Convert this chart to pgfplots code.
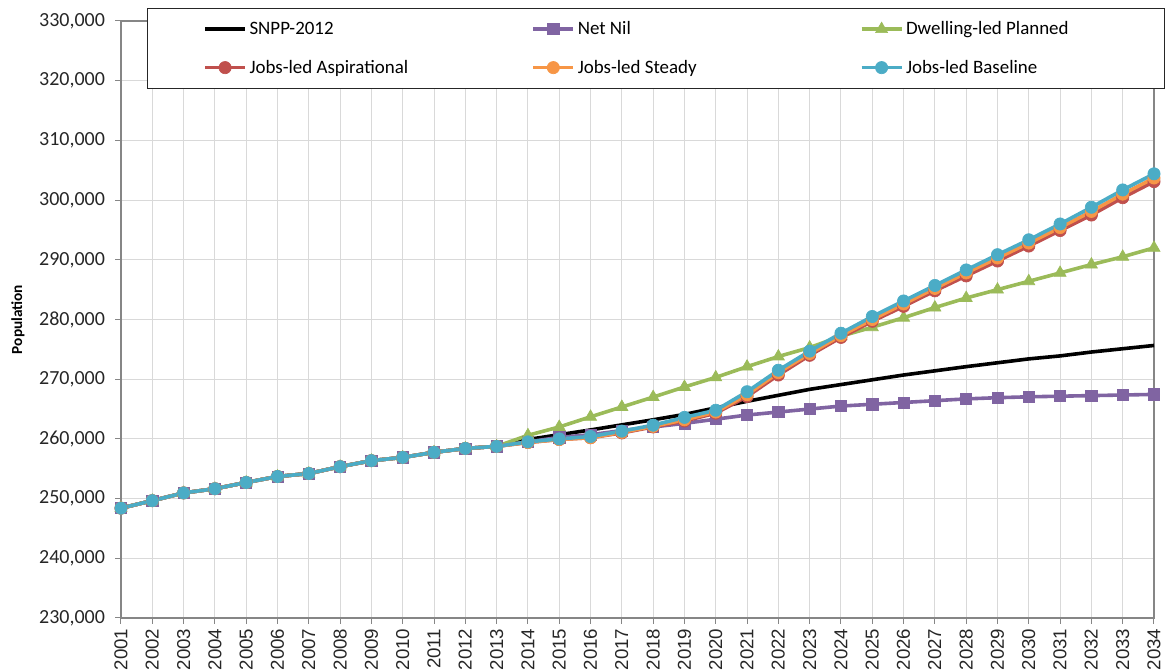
\documentclass[border=0pt]{standalone}
\usepackage{pgfplots}
\pgfplotsset{compat=1.18}
\usepackage{pgfplotstable}
\usepackage{fontspec}
\setmainfont{Carlito}
\newfontfamily\arialfont{Liberation Sans}
\definecolor{cpurple}{HTML}{8064A2}
\definecolor{cgreen}{HTML}{9BBB59}
\definecolor{cred}{HTML}{C0504D}
\definecolor{corange}{HTML}{F79646}
\definecolor{cblue}{HTML}{4BACC6}
\definecolor{gridgray}{HTML}{D9D9D9}
\definecolor{axisgray}{HTML}{868686}
\definecolor{ticktext}{HTML}{262626}

\pgfplotstableread{
year snpp netnil dwell asp steady base
2001 248400 248400 248400 248400 248400 248400
2002 249650 249650 249650 249650 249650 249650
2003 250950 250950 250950 250950 250950 250950
2004 251650 251650 251650 251650 251650 251650
2005 252700 252700 252700 252700 252700 252700
2006 253700 253700 253700 253700 253700 253700
2007 254200 254200 254200 254200 254200 254200
2008 255350 255350 255350 255350 255350 255350
2009 256350 256350 256350 256350 256350 256350
2010 256900 256900 256900 256900 256900 256900
2011 257750 257750 257750 257750 257750 257750
2012 258400 258400 258400 258400 258400 258400
2013 258750 258750 258750 258750 258750 258750
2014 259900 259500 260600 259400 259400 259500
2015 260700 260250 262000 259900 259900 260000
2016 261500 260700 263700 260200 260200 260400
2017 262350 261400 265350 261000 261100 261300
2018 263200 262000 267000 262000 262100 262300
2019 264100 262600 268700 263000 263200 263600
2020 265200 263300 270300 264300 264500 264800
2021 266300 264000 272100 267100 267400 267900
2022 267300 264500 273800 270700 271100 271500
2023 268300 265000 275300 274000 274300 274700
2024 269100 265500 277200 277000 277300 277700
2025 269900 265800 278700 279700 280000 280500
2026 270700 266100 280300 282200 282600 283100
2027 271400 266400 282000 284800 285200 285700
2028 272100 266700 283600 287300 287800 288300
2029 272750 266900 285000 289800 290300 290850
2030 273400 267050 286400 292300 292800 293350
2031 273900 267150 287800 294900 295400 296000
2032 274550 267250 289200 297500 298100 298800
2033 275100 267350 290500 300400 301000 301700
2034 275650 267450 292000 303100 303700 304400
}\datatable

\begin{document}
\begin{tikzpicture}
\begin{axis}[
  scale only axis, width=774.75pt, height=447.75pt,
  anchor=south west, at={(90.75pt,39pt)},
  xmin=2001, xmax=2034, ymin=230000, ymax=330000,
  xtick={2001,2002,...,2034},
  ytick={230000,240000,...,330000},
  grid=major,
  major grid style={draw=gridgray, line width=0.75pt},
  axis line style={draw=axisgray, line width=0.9pt},
  tick align=outside, tick pos=left,
  major tick length=4.5pt,
  tick style={draw=axisgray, line width=0.75pt},
  scaled y ticks=false,
  yticklabel style={font=\fontsize{15}{17}\selectfont, text=ticktext, xshift=-4pt,
    /pgf/number format/fixed, /pgf/number format/1000 sep={,}, /pgf/number format/assume math mode=true},
  xticklabel style={rotate=90, anchor=east, font=\arialfont\fontsize{14}{16}\selectfont, text=ticktext,
    /pgf/number format/1000 sep={}, /pgf/number format/assume math mode=true},
  ylabel={\textbf{Population}},
  ylabel style={at={(axis description cs:-0.0997,0.5)}, anchor=center, font=\fontsize{11.5}{13}\selectfont, text=black},
  legend columns=3,
  legend cell align=left,
  legend image code/.code={\draw[mark repeat=2,mark phase=2,#1] plot coordinates {(0pt,0pt) (15pt,0pt) (30pt,0pt)};},
  legend style={at={(axis description cs:0.02517,1.0218)}, anchor=north west,
    draw=black!85, fill=white, inner xsep=42pt, inner ysep=8pt,
    row sep=13.5pt, column sep=0pt,
    font=\fontsize{14.2}{16}\selectfont, text=black},
]
\addplot[black, line width=2.7pt, no markers] table[x=year,y=snpp]{\datatable};
\addlegendentry{\makebox[209.5pt][l]{SNPP-2012}}
\addplot[cpurple, line width=2.7pt, mark=square*, mark size=4.2pt, mark options={fill=cpurple, draw=cpurple, line width=0.5pt}] table[x=year,y=netnil]{\datatable};
\addlegendentry{\makebox[209.5pt][l]{Net Nil}}
\addplot[cgreen, line width=2.7pt, mark=triangle*, mark size=5.2pt, mark options={fill=cgreen, draw=cgreen, line width=0.5pt}] table[x=year,y=dwell]{\datatable};
\addlegendentry{\makebox[150pt][l]{Dwelling-led Planned}}
\addplot[cred, line width=2.7pt, mark=*, mark size=4.6pt, mark options={fill=cred, draw=cred, line width=0.5pt}] table[x=year,y=asp]{\datatable};
\addlegendentry{\makebox[209.5pt][l]{Jobs-led Aspirational}}
\addplot[corange, line width=2.7pt, mark=*, mark size=4.6pt, mark options={fill=corange, draw=corange, line width=0.5pt}] table[x=year,y=steady]{\datatable};
\addlegendentry{\makebox[209.5pt][l]{Jobs-led Steady}}
\addplot[cblue, line width=2.7pt, mark=*, mark size=4.6pt, mark options={fill=cblue, draw=cblue, line width=0.5pt}] table[x=year,y=base]{\datatable};
\addlegendentry{\makebox[150pt][l]{Jobs-led Baseline}}
\end{axis}
\pgfresetboundingbox
\path[use as bounding box] (0,0) rectangle (876pt,502.5pt);
\end{tikzpicture}
\end{document}
